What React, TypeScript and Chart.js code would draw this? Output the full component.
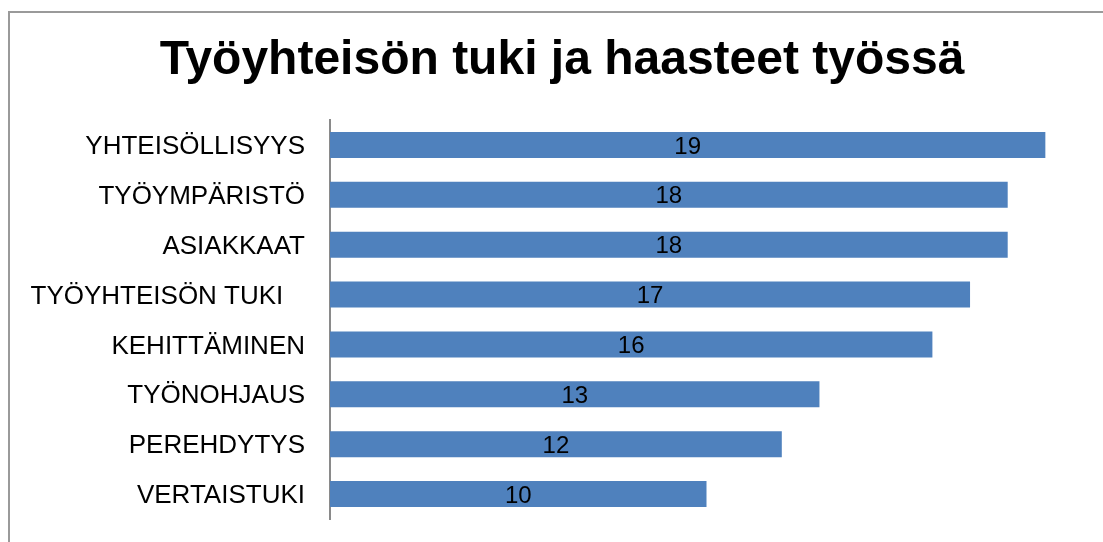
import React, { useEffect, useRef } from "react";
import { Chart, registerables } from "chart.js";

Chart.register(...registerables);

const titleText = "Työyhteisön tuki ja haasteet työssä";
const categories = [
  "YHTEISÖLLISYYS",
  "TYÖYMPÄRISTÖ",
  "ASIAKKAAT",
  "TYÖYHTEISÖN TUKI   ",
  "KEHITTÄMINEN",
  "TYÖNOHJAUS",
  "PEREHDYTYS",
  "VERTAISTUKI",
];
const values = [19, 18, 18, 17, 16, 13, 12, 10];
const xMin = 0;
const xMax = 20;

const FONT = '"Liberation Sans", Arial, sans-serif';

const barLabels = {
  id: "barLabels",
  afterLayout(chart: any) {
    // let the y-axis labels use the full left margin
    if (chart.scales.y) chart.scales.y.left = 0;
  },
  afterDatasetsDraw(chart: any) {
    const ctx = chart.ctx;
    const meta = chart.getDatasetMeta(0);
    ctx.save();
    ctx.font = `24px ${FONT}`;
    ctx.fillStyle = "#000000";
    ctx.textAlign = "center";
    ctx.textBaseline = "middle";
    meta.data.forEach((bar: any, i: number) => {
      const cx = (bar.x + bar.base) / 2;
      ctx.fillText(String(values[i]), cx, bar.y + 2);
    });
    ctx.restore();
  },
};

export default function App() {
  const ref = useRef<HTMLCanvasElement>(null);
  useEffect(() => {
    if (!ref.current) return;
    const chart = new Chart(ref.current, {
      type: "bar",
      data: {
        labels: categories,
        datasets: [
          {
            data: values,
            backgroundColor: "#4F81BD",
            borderWidth: 0,
            categoryPercentage: 0.52,
            barPercentage: 1,
          },
        ],
      },
      options: {
        indexAxis: "y",
        animation: false,
        responsive: false,
        events: [],
        layout: { padding: { left: 33, right: 20, top: 0, bottom: 23 } },
        plugins: {
          legend: { display: false },
          tooltip: { enabled: false },
          title: {
            display: true,
            text: titleText,
            color: "#000000",
            font: { family: FONT, size: 48, weight: "bold", lineHeight: 1.2 },
            padding: { top: 23.6, bottom: 30.8 },
          },
        },
        scales: {
          x: {
            display: false,
            min: xMin,
            max: xMax,
            grid: { display: false },
          },
          y: {
            grid: { display: false, drawTicks: false },
            border: { display: true, color: "#8a8a8a", width: 2 },
            ticks: {
              color: "#000000",
              padding: 25,
              labelOffset: 2,
              font: { family: FONT, size: 26 },
            },
            afterFit: (scale: any) => {
              scale.width = 289;
              scale.paddingTop = 0;
              scale.paddingBottom = 0;
            },
          },
        },
      },
      plugins: [barLabels],
    });
    return () => chart.destroy();
  }, []);

  return (
    <div
      style={{
        position: "fixed",
        left: 8,
        top: 8,
        width: 1095,
        height: 534,
        overflow: "hidden",
      }}
    >
      <div
        style={{
          position: "absolute",
          left: 0,
          top: 3,
          width: 2000,
          height: 2000,
          borderLeft: "2px solid #9a9a9a",
          borderTop: "2px solid #9a9a9a",
        }}
      />
      <canvas
        ref={ref}
        width={1095}
        height={534}
        style={{ position: "absolute", left: 0, top: 0 }}
      />
    </div>
  );
}
